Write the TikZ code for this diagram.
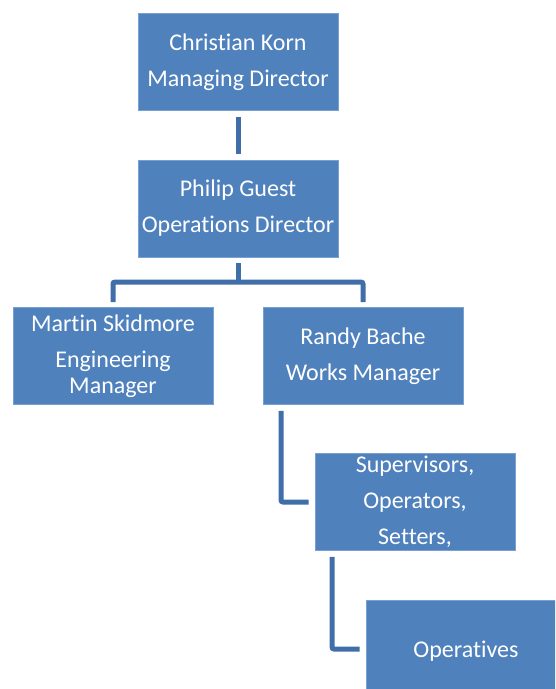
\documentclass[tikz,border=0pt]{standalone}
\usepackage{fontspec}
\setmainfont{Carlito}[Ligatures={NoCommon}]
\definecolor{boxblue}{RGB}{79,129,189}
\definecolor{boxedge}{RGB}{120,160,210}
\definecolor{linkblue}{RGB}{64,110,168}

\begin{document}
\begin{tikzpicture}[x=1pt,y=-1pt,
	box/.style={fill=boxblue,draw=boxedge,line width=0.6pt,minimum width=200pt,minimum height=97pt,
		inner sep=0pt,text=white,align=center,font=\fontsize{24}{36}\selectfont,
		execute at begin node={\rule{0pt}{21pt}}},
	link/.style={draw=linkblue,line width=5pt,rounded corners=2pt}]
	%PAGE
	\useasboundingbox (0,0) rectangle (555,689);
	\clip (0,0) rectangle (555,689);
	
	%BOXES
	\node[box] (korn) at (238,62) {Christian Korn\\Managing Director};
	\node[box] (guest) at (238,208.5) {Philip Guest\\Operations Director};
	\node[box] (skidmore) at (113,356) {Martin Skidmore\\Engineering\\[-10pt]Manager};
	\node[box] (bache) at (363,356) {Randy Bache\\Works Manager};
	\node[box] (supervisors) at (415,502) {Supervisors,\\Operators,\\Setters,};
	\node[box] (operatives) at (466,649) {Operatives};
	
	%CONNECTORS
	\coordinate (fork) at (238,282);
	\draw[link] ([yshift=-6pt]korn.south) -- ([yshift=6pt]guest.north);
	\draw[link] ([yshift=-6pt]guest.south) -- (fork);
	\draw[link] ([yshift=5pt]skidmore.north) |- (fork) -| ([yshift=5pt]bache.north);
	\draw[link] ([xshift=-82pt,yshift=-6pt]bache.south) |- ([xshift=-6pt]supervisors.west);
	\draw[link] ([xshift=-83pt,yshift=-6pt]supervisors.south) |- ([xshift=-6pt]operatives.west);
\end{tikzpicture}
\end{document}
